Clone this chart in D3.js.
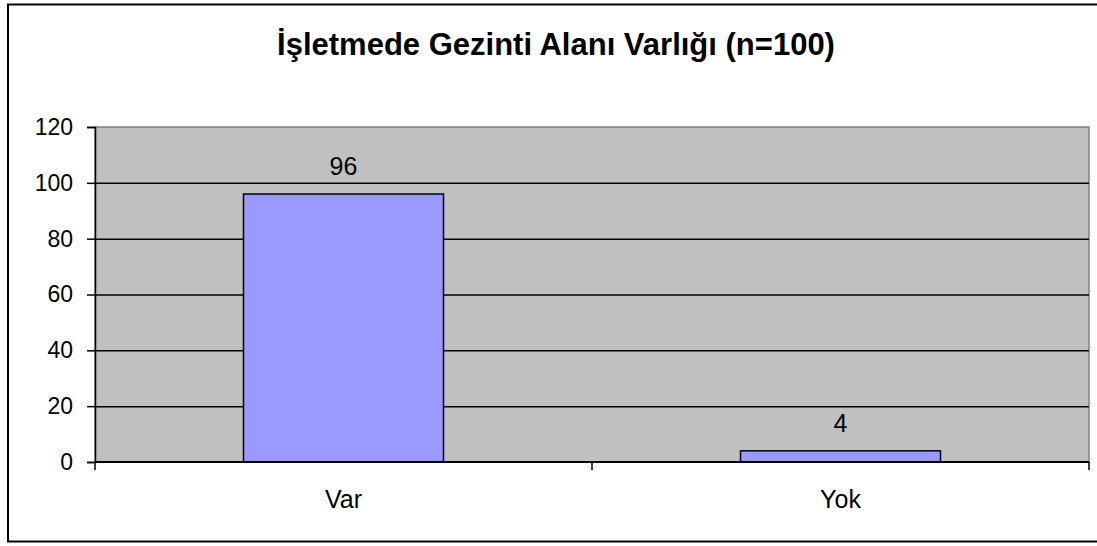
<!DOCTYPE html>
<html>
<head>
<meta charset="utf-8">
<script src="https://cdn.jsdelivr.net/npm/d3@7"></script>
<style>
  body { margin: 0; background: #fff; }
  svg { display: block; font-family: 'Liberation Sans', Arial, sans-serif; }
</style>
</head>
<body>
<svg width="1097" height="546"></svg>
<script>
const title = 'İşletmede Gezinti Alanı Varlığı (n=100)'
const categories = ['Var', 'Yok']
const counts = [96, 4]
const yTicks = [0, 20, 40, 60, 80, 100, 120]

const svg = d3.select('svg')

// outer chart frame (right edge runs off the page)
svg.append('rect')
  .attr('x', 8).attr('y', 4.5)
  .attr('width', 1100).attr('height', 537)
  .attr('fill', '#fff')
  .attr('stroke', '#000')
  .attr('stroke-width', 2)

svg.append('text')
  .attr('x', 556).attr('y', 55)
  .attr('text-anchor', 'middle')
  .attr('font-size', 31)
  .attr('font-weight', 'bold')
  .text(title)

const plot = { left: 95, right: 1089, top: 127, bottom: 462 }

const x = d3.scaleBand().domain(categories).range([plot.left, plot.right])
const y = d3.scaleLinear().domain([0, 120]).range([plot.bottom, plot.top])

// plot background
svg.append('rect')
  .attr('x', plot.left).attr('y', plot.top)
  .attr('width', plot.right - plot.left).attr('height', plot.bottom - plot.top)
  .attr('fill', '#c0c0c0')
  .attr('stroke', '#808080')
  .attr('stroke-width', 1.5)

// gridlines
svg.append('g')
  .selectAll('line')
  .data(yTicks.filter((d) => d > 0 && d < 120))
  .join('line')
  .attr('x1', plot.left).attr('x2', plot.right)
  .attr('y1', (d) => y(d) + 0.5).attr('y2', (d) => y(d) + 0.5)
  .attr('stroke', '#000')
  .attr('stroke-width', 1.5)

// bars
const barW = 200
svg.append('g')
  .selectAll('rect')
  .data(counts)
  .join('rect')
  .attr('x', (d, i) => x(categories[i]) + x.bandwidth() / 2 - barW / 2)
  .attr('y', (d) => y(d))
  .attr('width', barW)
  .attr('height', (d) => y(0) - y(d))
  .attr('fill', '#9999ff')
  .attr('stroke', '#000')
  .attr('stroke-width', 1.5)

// value labels
svg.append('g')
  .selectAll('text')
  .data(counts)
  .join('text')
  .attr('x', (d, i) => x(categories[i]) + x.bandwidth() / 2)
  .attr('y', (d) => y(d) - 19)
  .attr('text-anchor', 'middle')
  .attr('font-size', 25)
  .text((d) => d)

// y axis
const yAxis = svg.append('g')
  .attr('transform', `translate(${plot.left},0)`)
  .call(d3.axisLeft(y).tickValues(yTicks).tickSize(8).tickPadding(14))
yAxis.select('.domain').attr('stroke-width', 1.5)
yAxis.selectAll('.tick line').attr('stroke-width', 1.5)
yAxis.selectAll('text').attr('font-size', 23).attr('font-family', 'Liberation Sans, Arial, sans-serif').attr('fill', '#000')

// x axis: ticks at category boundaries
const xAxis = svg.append('g')
  .attr('transform', `translate(0,${plot.bottom})`)
xAxis.append('line')
  .attr('x1', plot.left).attr('x2', plot.right)
  .attr('stroke', '#000').attr('stroke-width', 2)
xAxis.selectAll('.bound')
  .data([...categories.map((c) => x(c)), plot.right])
  .join('line')
  .attr('class', 'bound')
  .attr('x1', (d) => d).attr('x2', (d) => d)
  .attr('y1', 0).attr('y2', 8)
  .attr('stroke', '#000').attr('stroke-width', 1.5)
xAxis.selectAll('text')
  .data(categories)
  .join('text')
  .attr('x', (d) => x(d) + x.bandwidth() / 2)
  .attr('y', 46)
  .attr('text-anchor', 'middle')
  .attr('font-size', 25)
  .text((d) => d)
</script>
</body>
</html>
